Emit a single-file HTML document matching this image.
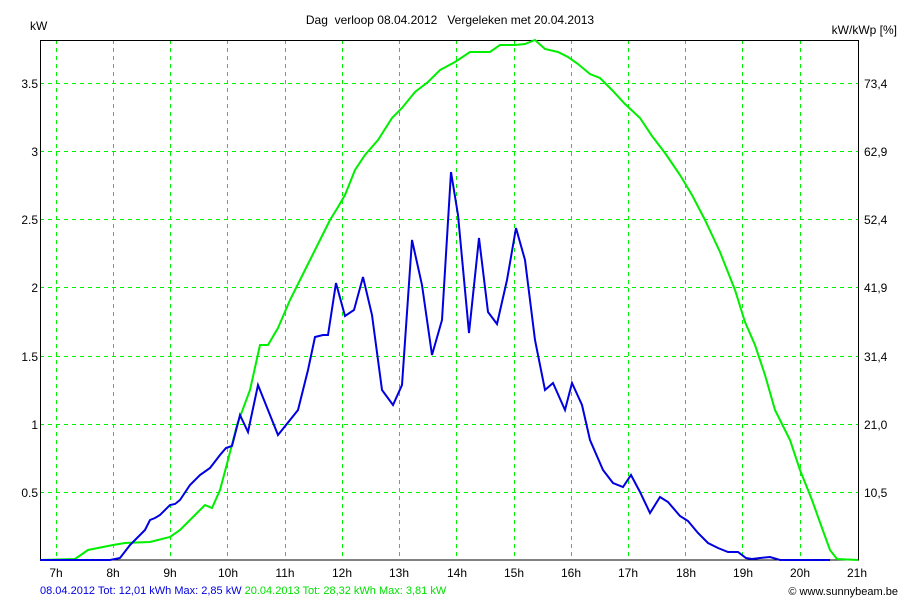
<!DOCTYPE html>
<html><head><style>
body{margin:0;background:#fff;}
svg{display:block;font-family:"Liberation Sans",Arial,sans-serif;font-size:12px;}
text{white-space:pre;}
</style></head><body>
<svg width="900" height="600" xmlns="http://www.w3.org/2000/svg" shape-rendering="crispEdges">
<rect width="900" height="600" fill="#fff"/>
<g stroke="#00f000" stroke-dasharray="4,4" stroke-width="1">
<line x1="56.5" y1="40" x2="56.5" y2="560"/><line x1="113.5" y1="40" x2="113.5" y2="560"/>
<line x1="170.5" y1="40" x2="170.5" y2="560"/><line x1="227.5" y1="40" x2="227.5" y2="560"/>
<line x1="285.5" y1="40" x2="285.5" y2="560"/><line x1="342.5" y1="40" x2="342.5" y2="560"/>
<line x1="399.5" y1="40" x2="399.5" y2="560"/><line x1="456.5" y1="40" x2="456.5" y2="560"/>
<line x1="514.5" y1="40" x2="514.5" y2="560"/><line x1="571.5" y1="40" x2="571.5" y2="560"/>
<line x1="628.5" y1="40" x2="628.5" y2="560"/><line x1="685.5" y1="40" x2="685.5" y2="560"/>
<line x1="742.5" y1="40" x2="742.5" y2="560"/><line x1="800.5" y1="40" x2="800.5" y2="560"/>
<line x1="40" y1="83.5" x2="859" y2="83.5"/><line x1="40" y1="151.5" x2="859" y2="151.5"/>
<line x1="40" y1="219.5" x2="859" y2="219.5"/><line x1="40" y1="287.5" x2="859" y2="287.5"/>
<line x1="40" y1="356.5" x2="859" y2="356.5"/><line x1="40" y1="424.5" x2="859" y2="424.5"/>
<line x1="40" y1="492.5" x2="859" y2="492.5"/>
</g>
<rect x="40.5" y="40.5" width="818" height="519.5" fill="none" stroke="#000" stroke-width="1"/>
<g shape-rendering="auto">
<polyline fill="none" stroke="#00ee00" stroke-width="2" points="40,560 75,559 88,550 113,545 125,543 150,542 170,537 180,530 195,515 205,505 212,508 220,490 228,460 237,425 250,390 260,345 268,345 278,328 290,300 305,270 320,240 330,220 338,207 345,195 355,170 365,155 378,140 392,118 402,108 415,92 428,82 440,70 455,62 470,52 490,52 500,45 515,45 525,44 535,40 545,49 558,52 568,57 578,64 590,74 600,78 612,90 625,104 640,118 652,136 665,153 680,175 692,195 705,220 720,252 735,290 745,322 755,345 765,375 775,410 790,440 800,470 812,500 822,528 830,550 837,559 858,560"/>
<polyline fill="none" stroke="#0000e0" stroke-width="2" points="40,560 110,560 120,558 130,545 140,535 145,530 150,520 155,518 160,515 170,505 175,504 180,500 190,485 200,475 210,468 220,455 226,448 232,446 240,415 248,432 258,385 268,410 278,435 298,410 308,370 315,337 323,335 328,335 336,283 345,316 354,310 363,277 372,315 382,390 393,405 402,385 412,240 422,285 432,355 442,320 451,172 458,215 469,333 479,238 488,312 497,324 507,280 516,228 525,260 535,340 545,390 553,383 565,410 572,383 582,405 590,440 603,470 613,483 623,487 631,475 640,492 650,513 660,497 668,502 680,516 688,521 698,533 708,543 718,548 728,552 738,552 746,558 752,559 760,558 770,557 780,560 830,560"/>
</g>
<g fill="#000">
<text x="450" y="24" text-anchor="middle">Dag  verloop 08.04.2012   Vergeleken met 20.04.2013</text>
<text x="30" y="30">kW</text>
<text x="897" y="34" text-anchor="end">kW/kWp [%]</text>
<g text-anchor="end">
<text x="38" y="88">3.5</text><text x="38" y="156">3</text><text x="38" y="224">2.5</text>
<text x="38" y="292">2</text><text x="38" y="361">1.5</text><text x="38" y="429">1</text><text x="38" y="497">0.5</text>
</g>
<g>
<text x="864" y="88">73,4</text><text x="864" y="156">62,9</text><text x="864" y="224">52,4</text>
<text x="864" y="292">41,9</text><text x="864" y="361">31,4</text><text x="864" y="429">21,0</text><text x="864" y="497">10,5</text>
</g>
<g text-anchor="middle">
<text x="56" y="577">7h</text><text x="113" y="577">8h</text><text x="170" y="577">9h</text><text x="228" y="577">10h</text>
<text x="285" y="577">11h</text><text x="342" y="577">12h</text><text x="399" y="577">13h</text><text x="457" y="577">14h</text>
<text x="514" y="577">15h</text><text x="571" y="577">16h</text><text x="628" y="577">17h</text><text x="686" y="577">18h</text>
<text x="743" y="577">19h</text><text x="800" y="577">20h</text><text x="857" y="577">21h</text>
</g>
<text x="898" y="595" text-anchor="end" font-size="11">© www.sunnybeam.be</text>
</g>
<text x="40" y="594" font-size="11"><tspan fill="#0000e0">08.04.2012 Tot: 12,01 kWh Max: 2,85 kW </tspan><tspan fill="#00e000">20.04.2013 Tot: 28,32 kWh Max: 3,81 kW</tspan></text>
</svg>
</body></html>
